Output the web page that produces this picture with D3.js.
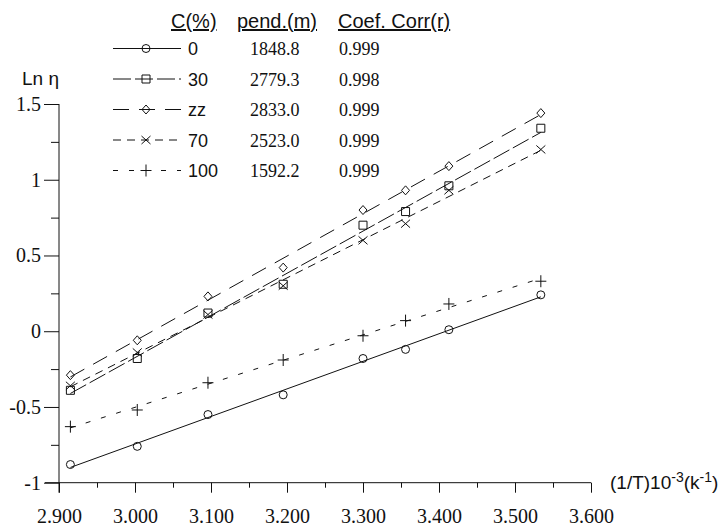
<!DOCTYPE html>
<html>
<head>
  <meta charset="utf-8">
  <title>Ln eta vs 1/T</title>
  <style>
    body { margin: 0; background: #fff; }
    svg { display: block; }
  </style>
  <script src="https://cdn.jsdelivr.net/npm/d3@7"></script>
</head>
<body>
<div id="chart"></div>
<script>

// (1/T)10^-3 values, one per temperature
var invT = [2.915, 3.003, 3.096, 3.195, 3.300, 3.356, 3.413, 3.534];

// ln(eta) for each concentration
var c0   = [-0.88, -0.76, -0.55, -0.42, -0.18, -0.12, 0.01, 0.24];
var c30  = [-0.39, -0.18, 0.12, 0.31, 0.70, 0.79, 0.96, 1.34];
var czz  = [-0.29, -0.06, 0.23, 0.42, 0.80, 0.93, 1.09, 1.44];
var c70  = [-0.36, -0.14, 0.11, 0.30, 0.60, 0.71, 0.93, 1.20];
var c100 = [-0.63, -0.52, -0.34, -0.19, -0.03, 0.07, 0.18, 0.33];

var seriesLabels = ["0", "30", "zz", "70", "100"];
var slopes = ["1848.8", "2779.3", "2833.0", "2523.0", "1592.2"];
var corrs = ["0.999", "0.998", "0.999", "0.999", "0.999"];

var xTicks = [2.9, 3.0, 3.1, 3.2, 3.3, 3.4, 3.5, 3.6];
var xMinor = [2.95, 3.05, 3.15, 3.25, 3.35, 3.45, 3.55];
var yTicks = [-1, -0.5, 0, 0.5, 1, 1.5];
var yMinor = [-0.75, -0.25, 0.25, 0.75, 1.25];

var width = 725, height = 526;
var ink = "#111";
var SERIF = '"Liberation Serif", "Times New Roman", serif';
var SANS = '"Liberation Sans", Arial, sans-serif';

var values = [c0, c30, czz, c70, c100];
var markers = ["circle", "square", "diamond", "cross", "plus"];
var dashes = [null, "18,4", "16,10", "8,6", "5,11"];

var svg = d3.select("#chart").append("svg")
  .attr("width", width)
  .attr("height", height);

var x = d3.scaleLinear().domain([2.9, 3.6]).range([59, 591]);
var y = d3.scaleLinear().domain([-1, 1.5]).range([482.7, 104]);

// marker shapes, centred on 0,0
function markerPath(type) {
  var p = d3.path();
  if (type == "circle") {
    p.moveTo(4, 0); p.arc(0, 0, 4, 0, 2 * Math.PI);
  } else if (type == "square") {
    p.rect(-4, -4, 8, 8);
  } else if (type == "diamond") {
    p.moveTo(0, -4.5); p.lineTo(4, 0); p.lineTo(0, 4.5); p.lineTo(-4, 0); p.closePath();
  } else if (type == "cross") {
    p.moveTo(-4.5, -4); p.lineTo(4.5, 4); p.moveTo(-4.5, 4); p.lineTo(4.5, -4);
  } else {
    p.moveTo(-5.5, 0); p.lineTo(5.5, 0); p.moveTo(0, -6); p.lineTo(0, 6);
  }
  return p.toString();
}

// axes
svg.append("g")
  .attr("transform", "translate(0," + y(-1) + ")")
  .call(d3.axisBottom(x).tickValues(xTicks).tickSize(10).tickPadding(16)
    .tickFormat(d3.format(".3f")));
svg.append("g")
  .attr("transform", "translate(0," + y(-1) + ")")
  .call(d3.axisBottom(x).tickValues(xMinor).tickSize(5).tickFormat(""));
svg.append("g")
  .attr("transform", "translate(" + x(2.9) + ",0)")
  .call(d3.axisLeft(y).tickValues(yTicks).tickSize(15).tickPadding(3)
    .tickFormat(function(d) { return String(d); }));
svg.append("g")
  .attr("transform", "translate(" + x(2.9) + ",0)")
  .call(d3.axisLeft(y).tickValues(yMinor).tickSize(8).tickFormat(""));

svg.selectAll(".domain").remove();
svg.selectAll(".tick line").attr("stroke", ink);
svg.selectAll(".tick text")
  .attr("fill", ink)
  .attr("font-family", SERIF)
  .style("font-family", SERIF)
  .style("font-size", "20px");

svg.append("line")
  .attr("x1", 45).attr("x2", x(3.6))
  .attr("y1", y(-1)).attr("y2", y(-1))
  .attr("stroke", ink);
svg.append("line")
  .attr("x1", x(2.9)).attr("x2", x(2.9))
  .attr("y1", y(1.5)).attr("y2", y(-1) + 10)
  .attr("stroke", ink);

// axis titles
svg.append("text")
  .attr("x", 22).attr("y", 85)
  .style("font-family", SANS)
  .style("font-size", "19px")
  .attr("fill", ink)
  .text("Ln \u03b7");

var xt = svg.append("text")
  .attr("x", 610).attr("y", 489)
  .style("font-family", SANS)
  .style("font-size", "19px")
  .attr("fill", ink);
xt.append("tspan").text("(1/T)10");
xt.append("tspan").attr("dy", -7).style("font-size", "14px").text("-3");
xt.append("tspan").attr("dy", 7).text("(k");
xt.append("tspan").attr("dy", -7).style("font-size", "14px").text("-1");
xt.append("tspan").attr("dy", 7).text(")");

// fitted lines and markers
function fit(ys) {
  var mx = d3.mean(invT), my = d3.mean(ys);
  var sxy = d3.sum(invT, function(v, i) { return (v - mx) * (ys[i] - my); });
  var sxx = d3.sum(invT, function(v) { return (v - mx) * (v - mx); });
  var b = sxy / sxx;
  return function(v) { return my + b * (v - mx); };
}

values.forEach(function(ys, k) {
  var f = fit(ys);
  var ends = [invT[0], invT[invT.length - 1]];
  svg.append("path")
    .datum(ends)
    .attr("fill", "none")
    .attr("stroke", ink)
    .attr("stroke-width", 1)
    .attr("stroke-dasharray", dashes[k])
    .attr("d", d3.line().x(function(d) { return x(d); }).y(function(d) { return y(f(d)); }));

  svg.append("g").selectAll("path")
    .data(ys)
    .enter().append("path")
    .attr("transform", function(d, i) { return "translate(" + x(invT[i]) + "," + y(d) + ")"; })
    .attr("d", markerPath(markers[k]))
    .attr("fill", "none")
    .attr("stroke", ink)
    .attr("stroke-width", 1);
});

// legend table
var headers = [["C(%)", 171], ["pend.(m)", 237], ["Coef. Corr(r)", 338]];
headers.forEach(function(h) {
  svg.append("text")
    .attr("x", h[1]).attr("y", 28)
    .style("font-family", SANS)
    .style("font-size", "20px")
    .style("text-decoration", "underline")
    .attr("fill", ink)
    .text(h[0]);
});

var rows = svg.append("g").selectAll("g")
  .data(seriesLabels)
  .enter().append("g")
  .attr("transform", function(d, i) { return "translate(0," + (55 + i * 30.5) + ")"; });

rows.append("line")
  .attr("x1", 113).attr("x2", 181)
  .attr("y1", -6.5).attr("y2", -6.5)
  .attr("stroke", ink)
  .attr("stroke-dasharray", function(d, i) { return dashes[i]; });
rows.append("path")
  .attr("transform", "translate(146,-6.5)")
  .attr("d", function(d, i) { return markerPath(markers[i]); })
  .attr("fill", "none")
  .attr("stroke", ink);
rows.append("text")
  .attr("x", 188)
  .style("font-family", SANS)
  .style("font-size", "18px")
  .attr("fill", ink)
  .text(function(d) { return d; });
rows.append("text")
  .attr("x", 250)
  .style("font-family", SERIF)
  .style("font-size", "18px")
  .attr("fill", ink)
  .text(function(d, i) { return slopes[i]; });
rows.append("text")
  .attr("x", 339)
  .style("font-family", SERIF)
  .style("font-size", "18px")
  .attr("fill", ink)
  .text(function(d, i) { return corrs[i]; });

</script>
</body>
</html>
